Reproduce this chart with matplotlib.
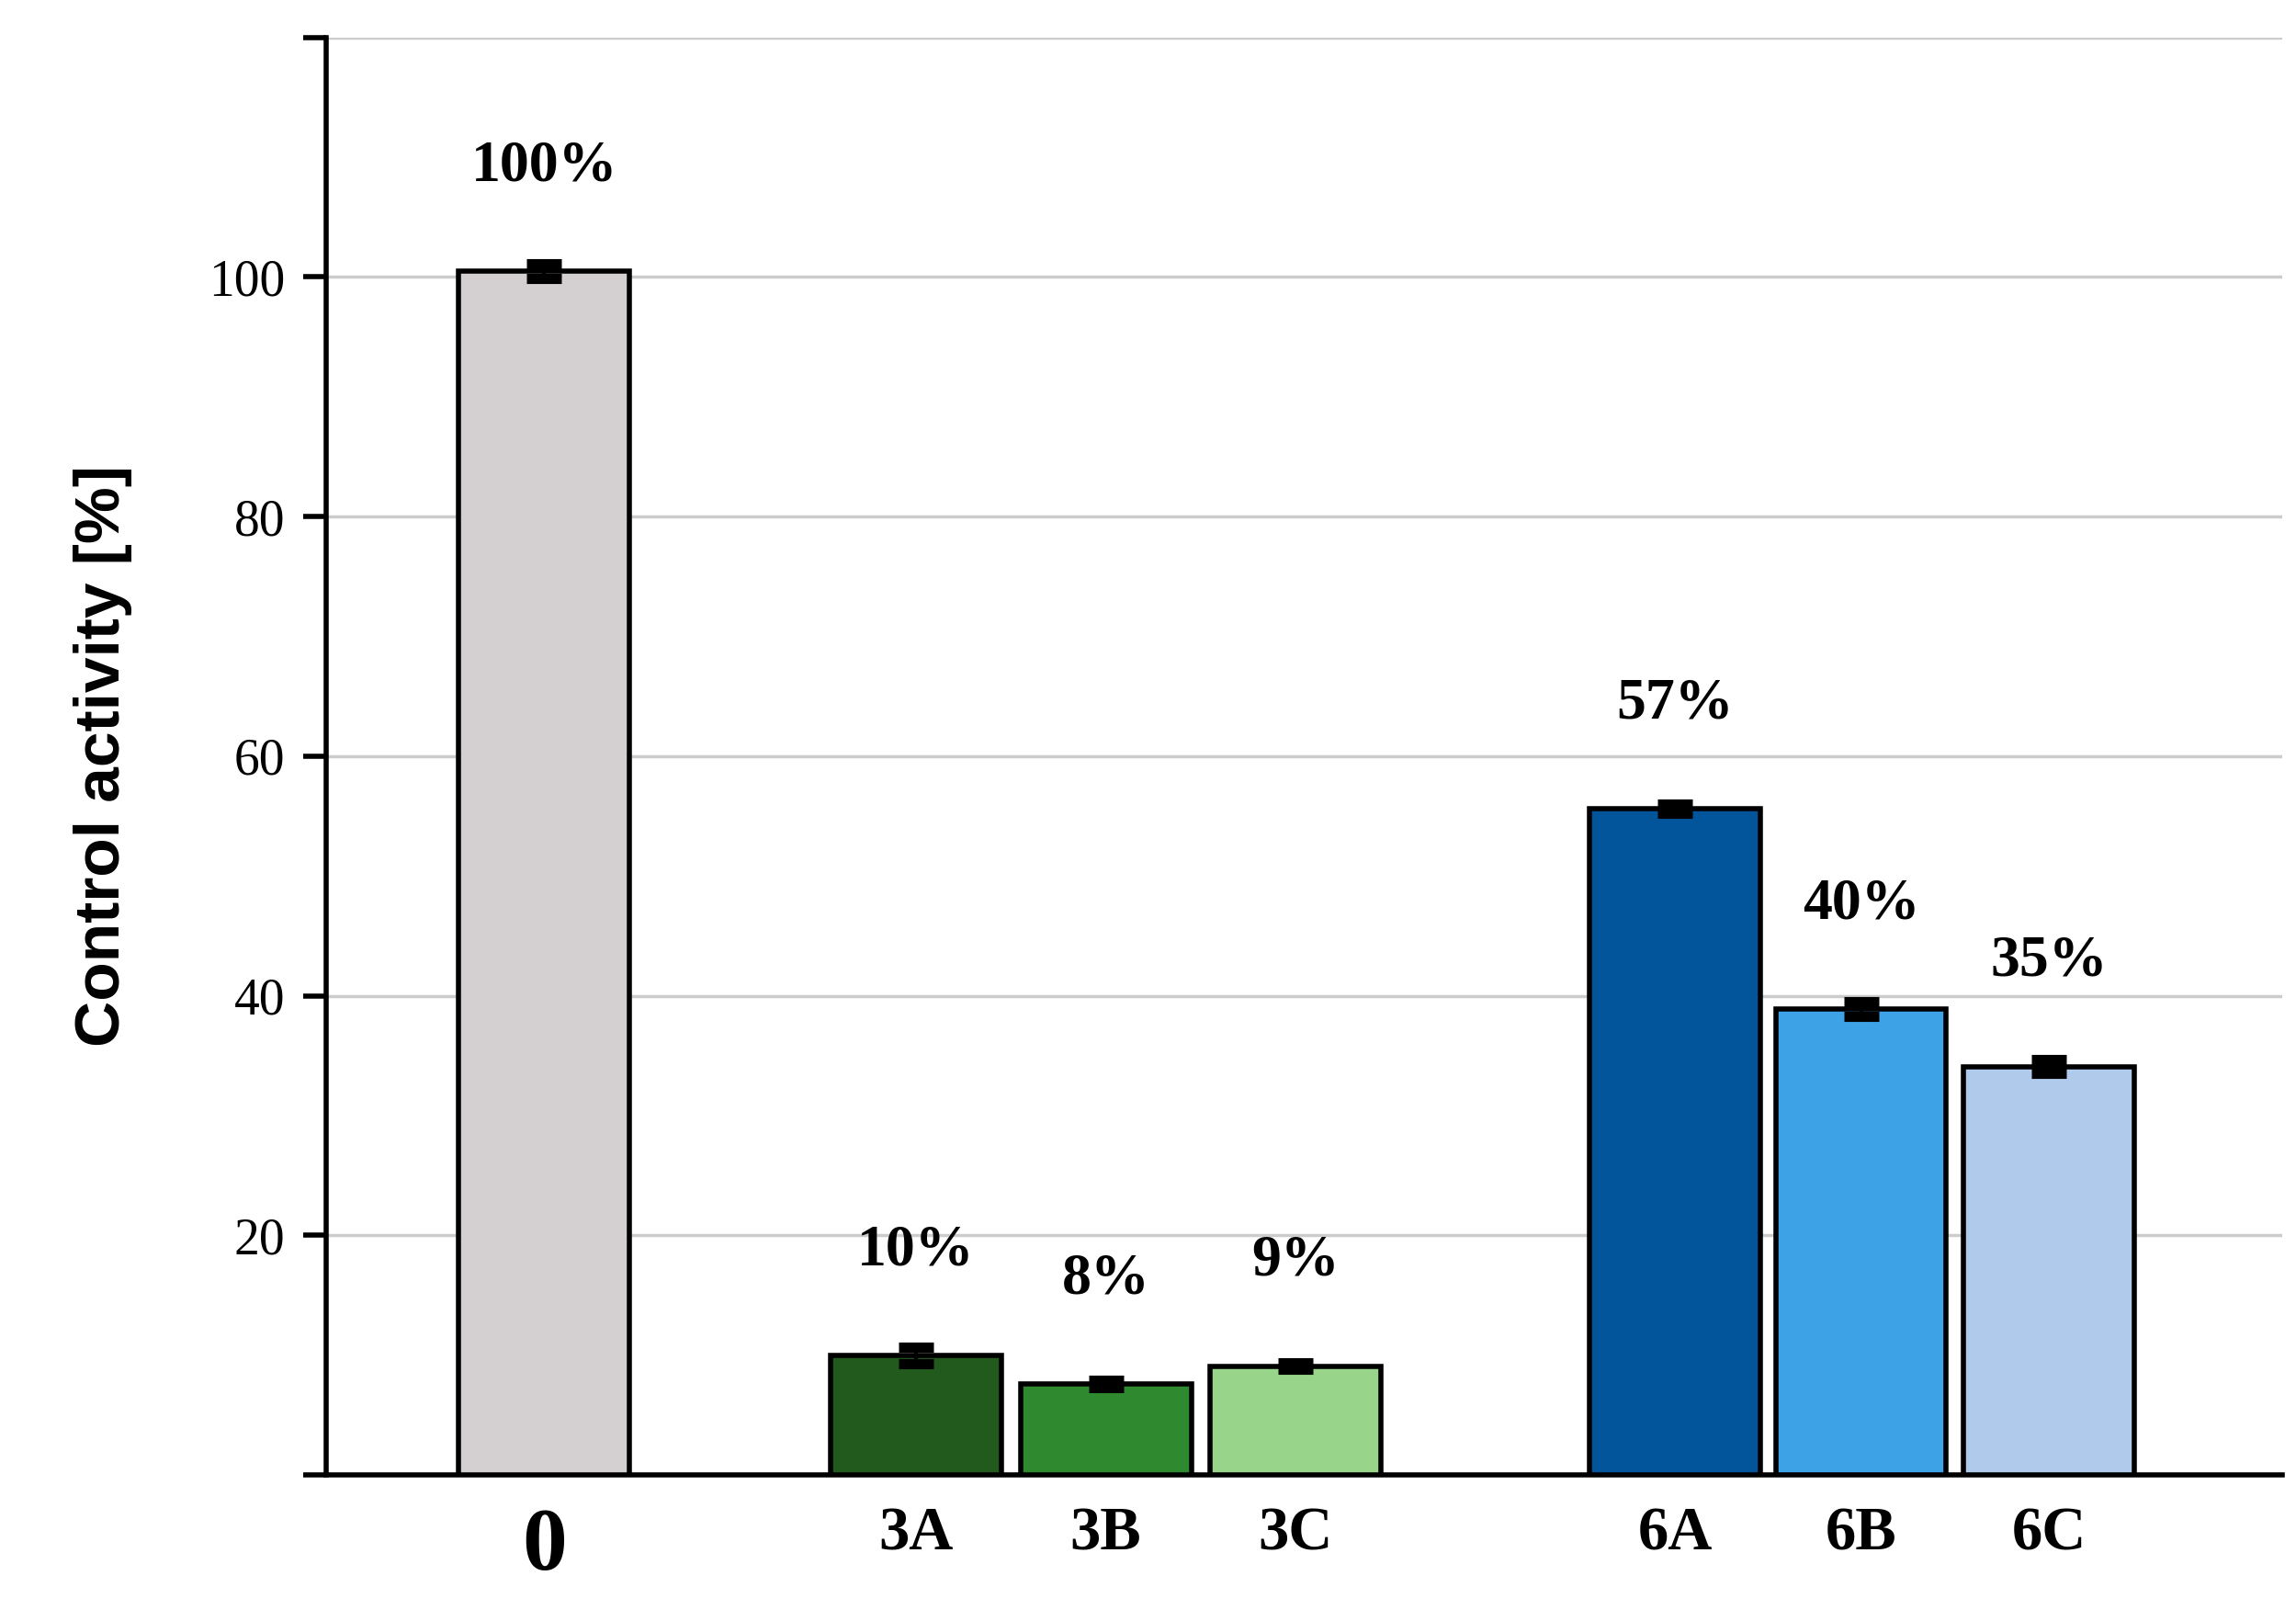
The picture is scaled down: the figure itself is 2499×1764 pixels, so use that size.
import matplotlib
matplotlib.use("Agg")
import matplotlib.pyplot as plt

categories = ["0", "3A", "3B", "3C", "6A", "6B", "6C"]
values = [100.5, 10.0, 7.6, 9.1, 55.6, 38.9, 34.1]
errors = [0.6, 0.7, 0.3, 0.3, 0.4, 0.6, 0.6]
labels = ["100%", "10%", "8%", "9%", "57%", "40%", "35%"]
colors = ["#d4d0d1", "#215a1c", "#2f8a2f", "#98d48a", "#02559b", "#3da2e6", "#afcaeb"]
positions = [0, 1.96, 2.96, 3.96, 5.96, 6.94, 7.93]

fig = plt.figure(figsize=(24.99, 17.64), dpi=100)
ax = fig.add_axes([0.142, 0.09, 0.852, 0.887])
ax.bar(positions, values, width=0.9, color=colors, edgecolor="black", linewidth=4, zorder=3)
ax.errorbar(positions, values, yerr=errors, fmt="none", ecolor="black", elinewidth=3, capsize=14, capthick=8, zorder=4)
for p, v, l in zip(positions, values, labels):
    ax.text(p, v + 6.5, l, ha="center", va="bottom", fontsize=46, fontweight="bold", family="Liberation Serif")
ax.set_xlim(-1.15, 9.16)
ax.set_ylim(0, 120)
ax.set_yticks([0, 20, 40, 60, 80, 100, 120])
ax.set_yticklabels(["", "20", "40", "60", "80", "100", ""], family="Liberation Serif", fontsize=40)
ax.yaxis.grid(True, color="#cccccc", linewidth=2.5, zorder=0)
ax.set_xticks(positions)
ax.set_xticklabels(categories, family="Liberation Serif", fontweight="bold", fontsize=48)
ax.get_xticklabels()[0].set_fontsize(70)
ax.tick_params(axis="x", length=0, pad=25)
ax.tick_params(axis="y", length=18, width=4, direction="out", pad=14)
for s in ["top", "right"]:
    ax.spines[s].set_visible(False)
ax.spines["left"].set_linewidth(4)
ax.spines["bottom"].set_linewidth(4)
ax.set_ylabel("Control activity [%]", family="Liberation Sans", fontweight="bold", fontsize=50, labelpad=60)
fig.savefig("out.png", dpi=100)
